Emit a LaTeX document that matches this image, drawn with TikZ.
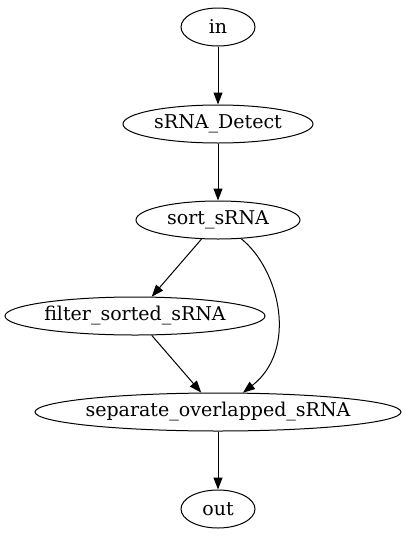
\documentclass[tikz,border=0pt]{standalone}
\usepackage{fontspec}
\setmainfont{DejaVu Serif}
\usetikzlibrary{arrows.meta}
\usetikzlibrary{shapes.geometric}

\begin{document}
\begin{tikzpicture}[x=1pt, y=1pt, line width=1pt,
        node_style/.style={ellipse,draw=black,inner ysep=0pt,inner xsep=-4pt,minimum height=38pt,font=\fontsize{19}{22}\selectfont},
        edge_style/.style={draw=black, line width=1pt,-{Triangle[length=12pt,width=9pt]}}]

        \useasboundingbox (0,0) rectangle (407,-539);

        \node [node_style,minimum width=74pt](n1) at (218,-27) {in};

        \node [node_style,minimum width=190pt](n2) at (218,-124) {sRNA\_Detect};

        \node [node_style,minimum width=164pt](n3) at (218,-220) {sort\_sRNA};

        \node [node_style,minimum width=260pt](n4) at (135,-316) {filter\_sorted\_sRNA};

        \node [node_style,minimum width=366pt](n5) at (218,-412) {separate\_overlapped\_sRNA};

        \node [node_style,minimum width=74pt](n6) at (218,-509) {out};

        \draw [edge_style] (n1) -- (n2);

        \draw [edge_style] (n2) -- (n3);

        \draw [edge_style] (n3) -- (n4);

        \draw [edge_style] (n3) .. controls (280,-270) and (298,-350) .. (n5);

        \draw [edge_style] (n4) -- (n5);

        \draw [edge_style] (n5) -- (n6);

        \end{tikzpicture}
\end{document}
